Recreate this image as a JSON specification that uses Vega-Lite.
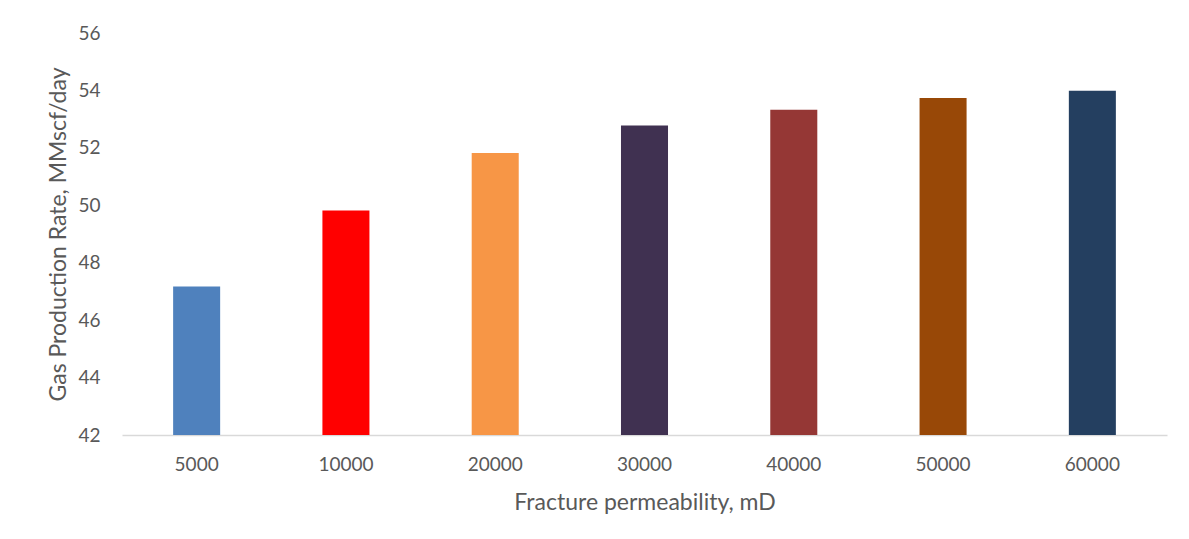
{
  "$schema": "https://vega.github.io/schema/vega-lite/v6.json",
  "width": 1045,
  "height": 402,
  "autosize": {"type": "none"},
  "padding": {"left": 122, "top": 33, "right": 22, "bottom": 104},
  "background": "white",
  "data": {
    "values": [
      {"perm": "5000", "rate": 47.17, "color": "#4F81BD"},
      {"perm": "10000", "rate": 49.82, "color": "#FF0000"},
      {"perm": "20000", "rate": 51.82, "color": "#F79646"},
      {"perm": "30000", "rate": 52.78, "color": "#403151"},
      {"perm": "40000", "rate": 53.33, "color": "#953735"},
      {"perm": "50000", "rate": 53.74, "color": "#984807"},
      {"perm": "60000", "rate": 53.99, "color": "#243F60"}
    ]
  },
  "config": {
    "view": {"stroke": null},
    "font": "Lato"
  },
  "mark": {"type": "bar", "clip": true},
  "encoding": {
    "x": {
      "field": "perm",
      "type": "ordinal",
      "sort": null,
      "scale": {"paddingInner": 0.685, "paddingOuter": 0.3425},
      "axis": {
        "title": "Fracture permeability, mD",
        "labelAngle": 0,
        "labelFontSize": 19,
        "labelColor": "#595959",
        "labelPadding": 20,
        "ticks": false,
        "domainColor": "#D9D9D9",
        "domainWidth": 1.5,
        "titleFontSize": 23,
        "titleFontWeight": "normal",
        "titleColor": "#595959",
        "titlePadding": 17
      }
    },
    "y": {
      "field": "rate",
      "type": "quantitative",
      "scale": {"domain": [42, 56], "zero": false},
      "axis": {
        "title": "Gas Production Rate, MMscf/day",
        "values": [42, 44, 46, 48, 50, 52, 54, 56],
        "grid": false,
        "domain": false,
        "ticks": false,
        "labelFontSize": 19,
        "labelColor": "#595959",
        "labelPadding": 22,
        "titleFontSize": 23,
        "titleFontWeight": "normal",
        "titleColor": "#595959",
        "titlePadding": 7
      }
    },
    "color": {"field": "color", "type": "nominal", "scale": null, "legend": null}
  }
}
